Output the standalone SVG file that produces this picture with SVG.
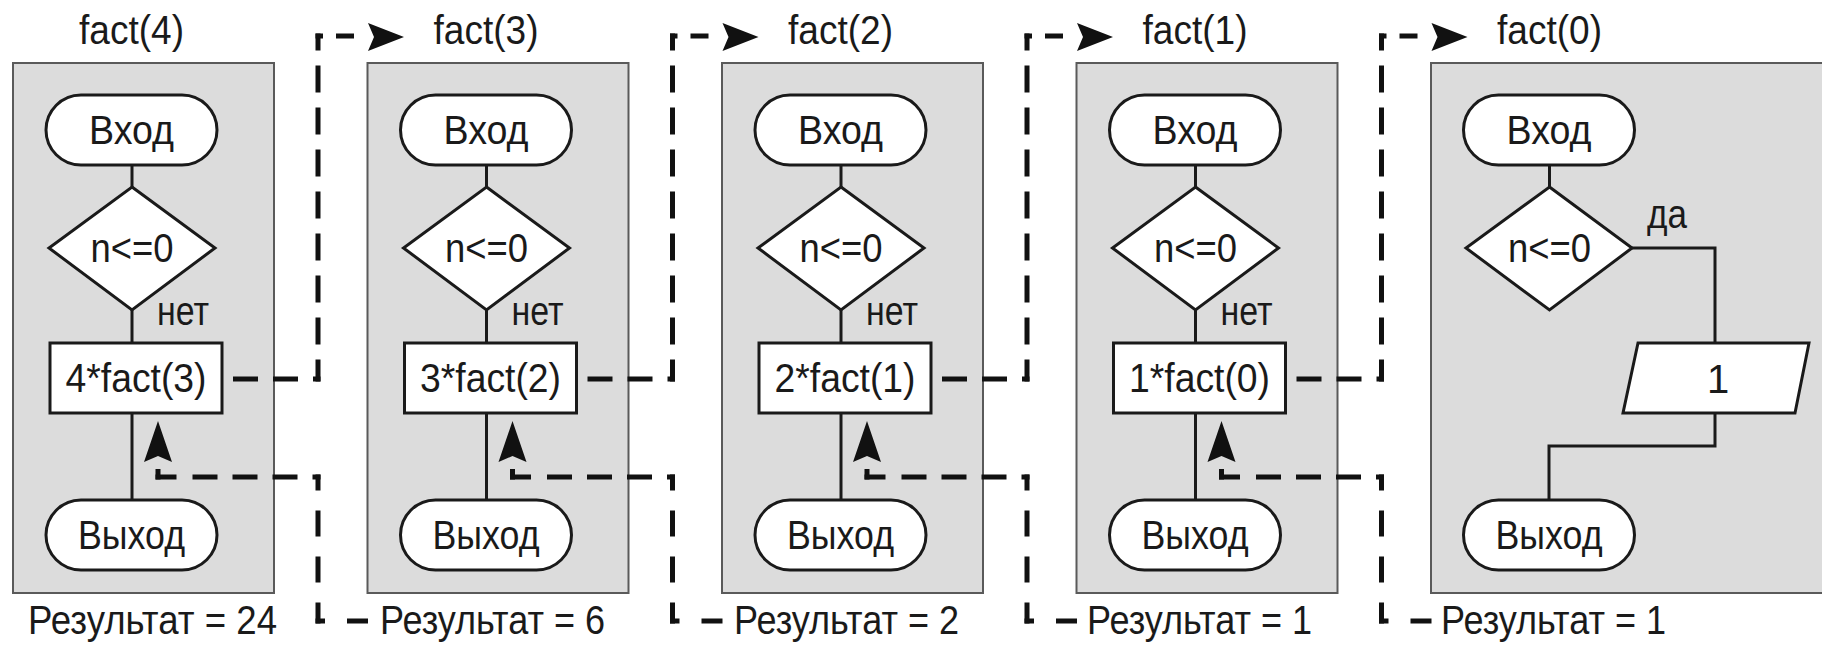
<svg xmlns="http://www.w3.org/2000/svg" width="1822" height="649" viewBox="0 0 1822 649">
<style>
.panel{fill:#dcdcdc;stroke:#5a5a5a;stroke-width:2}
.shape{fill:#fff;stroke:#1a1a1a;stroke-width:3}
.line{fill:none;stroke:#1a1a1a;stroke-width:3}
.dash{fill:none;stroke:#111;stroke-width:5}
.head{fill:#111;stroke:none}
text{font-family:"Liberation Sans",Arial,sans-serif;font-size:40px;fill:#1a1a1a}
.c{text-anchor:middle}
</style>
<defs>
<g id="callpanel">
<rect class="panel" x="13" y="63" width="261" height="530"/>
<line class="line" x1="132" y1="165" x2="132" y2="187"/>
<line class="line" x1="132" y1="310" x2="132" y2="343"/>
<line class="line" x1="132" y1="413" x2="132" y2="500"/>
<rect class="shape" x="46" y="95" width="171" height="70" rx="35"/>
<text class="c" x="131.5" y="144" textLength="85" lengthAdjust="spacingAndGlyphs">Вход</text>
<polygon class="shape" points="132,187 215,248 132,310 49,248"/>
<text class="c" x="132" y="262" textLength="83" lengthAdjust="spacingAndGlyphs">n&lt;=0</text>
<text x="157" y="325" textLength="52" lengthAdjust="spacingAndGlyphs">нет</text>
<rect class="shape" x="50" y="343" width="172" height="70"/>
<rect class="shape" x="46" y="500" width="171" height="70" rx="35"/>
<text class="c" x="131.5" y="549" textLength="107" lengthAdjust="spacingAndGlyphs">Выход</text>
</g>
<g id="callconn">
<path class="dash" d="M233 379H320.5" stroke-dasharray="25 15"/>
<path class="dash" d="M318 33.5V381.5" stroke-dasharray="27 15" stroke-dashoffset="10"/>
<path class="dash" d="M315.5 36H368" stroke-dasharray="7.5 13 18 100"/>
<polygon class="head" points="404,37 368,23 374,37 368,51"/>
</g>
<g id="retconn">
<path class="dash" d="M315.5 621H368" stroke-dasharray="9.5 22 21 100"/>
<path class="dash" d="M318 474.5V623.5" stroke-dasharray="26 20" stroke-dashoffset="10"/>
<path class="dash" d="M320.5 477H155.5" stroke-dasharray="8 15 25 15 25 15 25 16 30"/>
<path class="dash" d="M158 479.5V469"/>
<polygon class="head" points="158,421 172,462 158,456 144,462"/>
</g>
</defs>

<g id="fact4">
<use href="#callpanel"/>
<text class="c" x="131.5" y="44" textLength="105" lengthAdjust="spacingAndGlyphs">fact(4)</text>
<text class="c" x="136" y="392" textLength="141" lengthAdjust="spacingAndGlyphs">4*fact(3)</text>
<text x="28" y="634" textLength="249" lengthAdjust="spacingAndGlyphs">Результат = 24</text>
</g>
<g id="fact3" transform="translate(354.5,0)">
<use href="#callpanel"/>
<text class="c" x="131.5" y="44" textLength="105" lengthAdjust="spacingAndGlyphs">fact(3)</text>
<text class="c" x="136" y="392" textLength="141" lengthAdjust="spacingAndGlyphs">3*fact(2)</text>
<text x="25.5" y="634" textLength="225" lengthAdjust="spacingAndGlyphs">Результат = 6</text>
</g>
<g id="fact2" transform="translate(709,0)">
<use href="#callpanel"/>
<text class="c" x="131.5" y="44" textLength="105" lengthAdjust="spacingAndGlyphs">fact(2)</text>
<text class="c" x="136" y="392" textLength="141" lengthAdjust="spacingAndGlyphs">2*fact(1)</text>
<text x="25" y="634" textLength="225" lengthAdjust="spacingAndGlyphs">Результат = 2</text>
</g>
<g id="fact1" transform="translate(1063.5,0)">
<use href="#callpanel"/>
<text class="c" x="131.5" y="44" textLength="105" lengthAdjust="spacingAndGlyphs">fact(1)</text>
<text class="c" x="136" y="392" textLength="141" lengthAdjust="spacingAndGlyphs">1*fact(0)</text>
<text x="23.5" y="634" textLength="225" lengthAdjust="spacingAndGlyphs">Результат = 1</text>
</g>
<g id="fact0">
<rect class="panel" x="1431" y="63" width="400" height="530"/>
<text class="c" x="1549.5" y="44" textLength="105" lengthAdjust="spacingAndGlyphs">fact(0)</text>
<polyline class="line" points="1632,248 1715,248 1715,343"/>
<polyline class="line" points="1715,413 1715,446 1549,446 1549,500"/>
<line class="line" x1="1549.5" y1="165" x2="1549.5" y2="187"/>
<g id="fact0-entry"><rect class="shape" x="1463.5" y="95" width="171" height="70" rx="35"/>
<text class="c" x="1549" y="144" textLength="85" lengthAdjust="spacingAndGlyphs">Вход</text></g>
<g id="fact0-cond"><polygon class="shape" points="1549.5,187 1632,248 1549.5,310 1466,248"/>
<text class="c" x="1549.5" y="262" textLength="83" lengthAdjust="spacingAndGlyphs">n&lt;=0</text></g>
<text x="1647" y="228" textLength="40" lengthAdjust="spacingAndGlyphs">да</text>
<g id="fact0-out"><polygon class="shape" points="1638,343 1809,343 1795,413 1623,413"/>
<text class="c" x="1718" y="393">1</text></g>
<g id="fact0-exit"><rect class="shape" x="1463.5" y="500" width="171" height="70" rx="35"/>
<text class="c" x="1549" y="549" textLength="107" lengthAdjust="spacingAndGlyphs">Выход</text></g>
<text x="1441" y="634" textLength="225" lengthAdjust="spacingAndGlyphs">Результат = 1</text>
</g>

<g id="connectors">
<use href="#callconn"/>
<use href="#callconn" transform="translate(354.5,0)"/>
<use href="#callconn" transform="translate(709,0)"/>
<use href="#callconn" transform="translate(1063.5,0)"/>
<use href="#retconn"/>
<use href="#retconn" transform="translate(354.5,0)"/>
<use href="#retconn" transform="translate(709,0)"/>
<use href="#retconn" transform="translate(1063.5,0)"/>
</g>
</svg>
